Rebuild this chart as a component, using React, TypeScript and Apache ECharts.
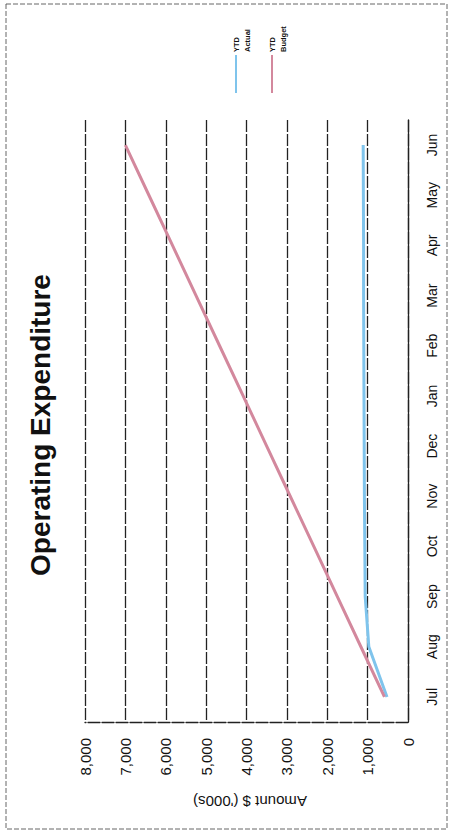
import React, { useEffect, useRef } from "react";
import * as echarts from "echarts";

const months = ["Jul", "Aug", "Sep", "Oct", "Nov", "Dec", "Jan", "Feb", "Mar", "Apr", "May", "Jun"];
const ytdActual = [520, 970, 1060, 1070, 1080, 1085, 1090, 1095, 1100, 1100, 1105, 1110];
const ytdBudget = [583, 1167, 1750, 2333, 2917, 3500, 4083, 4667, 5250, 5833, 6417, 7000];
const valueTicks = { min: 0, max: 8000, interval: 1000 };
const titleText = "Operating Expenditure";
const axisName = "Amount $ ('000s)";
const seriesNames = [["YTD", "Actual"], ["YTD", "Budget"]];
const colors = ["#7fc4ec", "#d3889d"];

const FONT = "'Liberation Sans', Arial, sans-serif";

export default function App() {
  const ref = useRef<HTMLDivElement>(null);
  useEffect(() => {
    if (!ref.current) return;
    const chart = echarts.init(ref.current, null, { renderer: "svg" });
    const legendGraphics: any[] = [];
    const legendX = [236, 272];
    seriesNames.forEach((n, i) => {
      const x = legendX[i];
      legendGraphics.push({
        type: "line",
        shape: { x1: x, y1: 55, x2: x, y2: 93 },
        style: { stroke: colors[i], lineWidth: 2 },
      });
      legendGraphics.push({
        type: "text",
        x: x,
        y: 52,
        rotation: Math.PI / 2,
        style: { text: n[0], fontSize: 7.5, fontWeight: "bold", fontFamily: FONT, fill: "#111", align: "left", verticalAlign: "middle" },
      });
      legendGraphics.push({
        type: "text",
        x: x + 11,
        y: 52,
        rotation: Math.PI / 2,
        style: { text: n[1], fontSize: 7.5, fontWeight: "bold", fontFamily: FONT, fill: "#111", align: "left", verticalAlign: "middle" },
      });
    });
    chart.setOption({
      animation: false,
      backgroundColor: "#fff",
      grid: { left: 85, right: 43, top: 120, bottom: 114, containLabel: false },
      xAxis: {
        type: "value",
        inverse: true,
        min: valueTicks.min,
        max: valueTicks.max,
        interval: valueTicks.interval,
        position: "bottom",
        axisLine: { show: true, lineStyle: { color: "#222", width: 1.3, type: [12, 2] } },
        axisTick: { show: false },
        axisLabel: {
          rotate: 90,
          margin: 16,
          fontSize: 15,
          fontFamily: FONT,
          color: "#111",
          formatter: (v: number) => v.toLocaleString("en-US"),
        },
        splitLine: { show: true, lineStyle: { color: "#222", width: 1.3, type: [12, 2] } },
      },
      yAxis: {
        type: "category",
        data: months,
        position: "right",
        boundaryGap: true,
        axisLine: { show: true, lineStyle: { color: "#222", width: 1.3 } },
        axisTick: { show: false },
        axisLabel: { rotate: 90, margin: 17, fontSize: 14, fontFamily: FONT, color: "#111" },
        splitLine: { show: false },
      },
      series: [
        {
          name: "YTD Actual",
          type: "line",
          data: ytdActual,
          symbol: "none",
          lineStyle: { color: colors[0], width: 3 },
          z: 3,
        },
        {
          name: "YTD Budget",
          type: "line",
          data: ytdBudget,
          symbol: "none",
          lineStyle: { color: colors[1], width: 3 },
          z: 4,
        },
      ],
      graphic: [
        {
          type: "rect",
          shape: { x: 6, y: 4, width: 441, height: 825 },
          style: { fill: "none", stroke: "#666", lineWidth: 1, lineDash: [5, 2] },
          z: 100,
        },
        {
          type: "text",
          x: 40,
          y: 425,
          rotation: Math.PI / 2,
          style: { text: titleText, fontSize: 28, fontWeight: 600, fontFamily: FONT, fill: "#111", align: "center", verticalAlign: "middle" },
        },
        {
          type: "text",
          x: 250,
          y: 801,
          rotation: Math.PI,
          style: { text: axisName, fontSize: 15, fontFamily: FONT, fill: "#111", align: "center", verticalAlign: "middle" },
        },
        ...legendGraphics,
      ],
    });
    return () => chart.dispose();
  }, []);
  return <div ref={ref} style={{ position: "fixed", left: 0, top: 0, width: 451, height: 836 }} />;
}
